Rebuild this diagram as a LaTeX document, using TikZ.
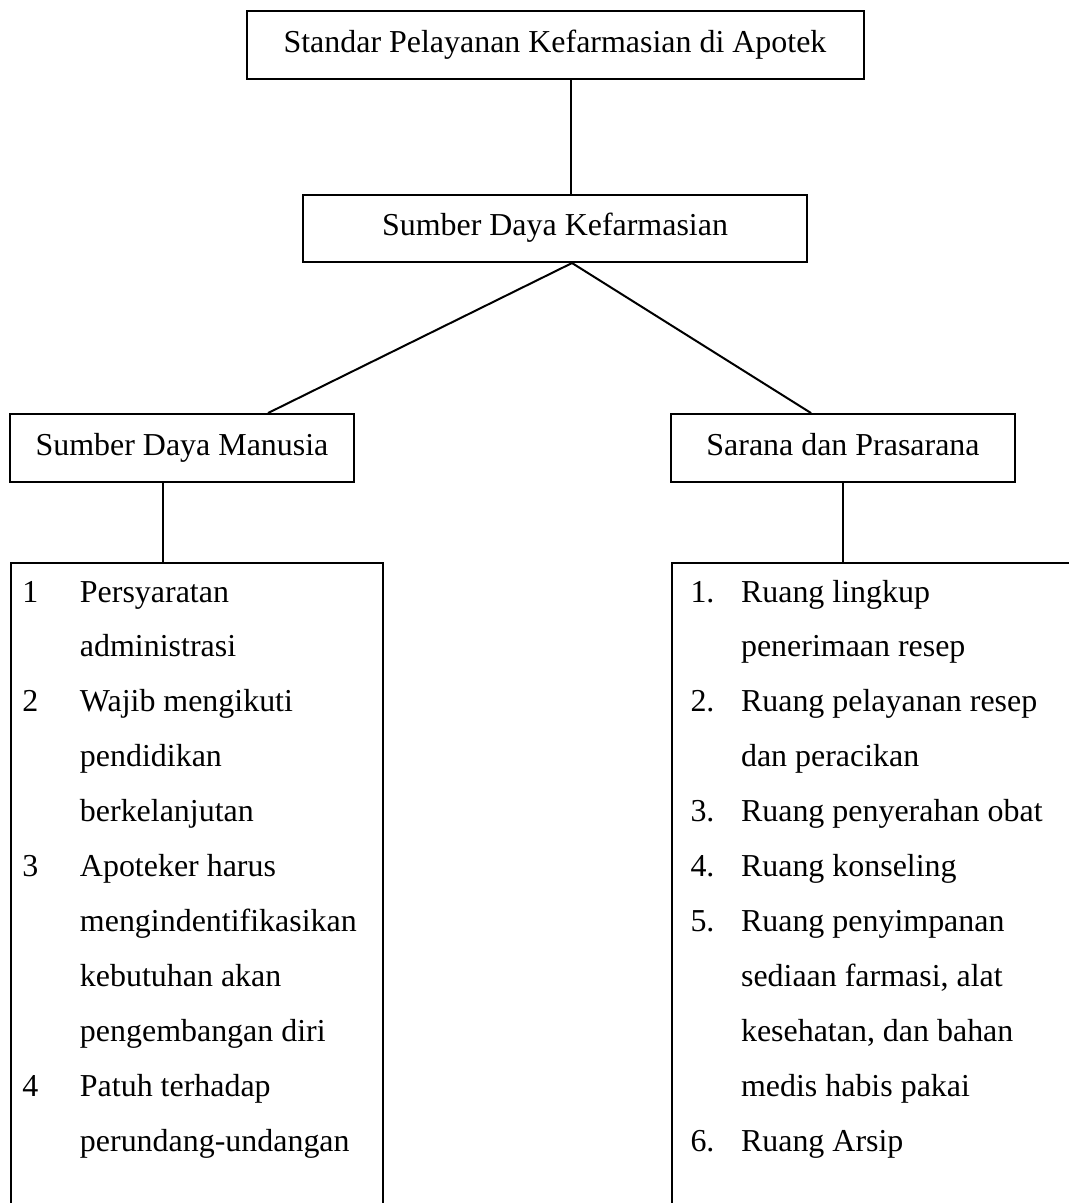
\documentclass[tikz,border=0pt]{standalone}
\usepackage{fontspec}
\setmainfont{Liberation Serif}
\usepackage{tikz}

\tikzset{
  box/.style={draw, inner sep=0pt, minimum height=25.5pt, text height=8.6pt, text depth=3pt},
  listbox/.style={draw, inner sep=0pt, anchor=north west, minimum height=263pt},
  listtext/.style={anchor=base west, inner sep=0pt},
}

\begin{document}
\begin{tikzpicture}[x=0.3757pt, y=-0.3757pt, line width=0.75pt, font=\fontsize{12pt}{20.66pt}\selectfont]
\useasboundingbox (0,0) rectangle (1069,1203);
\clip (0,0) rectangle (1069,1203);
% boxes
\node[box, minimum width=231.8pt] (std) at (555,45) {Standar Pelayanan Kefarmasian di Apotek};
\node[box, minimum width=189.4pt, minimum height=25.2pt] (sdk) at (555,228.5) {Sumber Daya Kefarmasian};
\node[box, minimum width=129.2pt] (sdm) at (182,448) {Sumber Daya Manusia};
\node[box, minimum width=129.2pt] (sarana) at (843,448) {Sarana dan Prasarana};
\node[listbox, minimum width=139.8pt] (sdmlist) at (10,562) {};
\node[listbox, minimum width=169pt] (saranalist) at (671,562) {};
% lists
\node[listtext] (sdmitems) at (21.5,602) {\begin{tabular}[t]{@{}p{21.6pt}@{}l@{}}
1 & Persyaratan\\
  & administrasi\\
2 & Wajib mengikuti\\
  & pendidikan\\
  & berkelanjutan\\
3 & Apoteker harus\\
  & mengindentifikasikan\\
  & kebutuhan akan\\
  & pengembangan diri\\
4 & Patuh terhadap\\
  & perundang-undangan
\end{tabular}};
\node[listtext] (saranaitems) at (689.5,602) {\begin{tabular}[t]{@{}p{19pt}@{}l@{}}
1. & Ruang lingkup\\
   & penerimaan resep\\
2. & Ruang pelayanan resep\\
   & dan peracikan\\
3. & Ruang penyerahan obat\\
4. & Ruang konseling\\
5. & Ruang penyimpanan\\
   & sediaan farmasi, alat\\
   & kesehatan, dan bahan\\
   & medis habis pakai\\
6. & Ruang Arsip
\end{tabular}};
% connectors
\draw ([xshift=6pt]std.south) -- ([xshift=6pt]sdk.north);
\coordinate (fork) at ([xshift=6.4pt]sdk.south);
\draw ([xshift=32.3pt]sdm.north) -- (fork) -- ([xshift=-12pt]sarana.north);
\coordinate (sdmdrop) at ([xshift=-7.1pt]sdm.south);
\draw (sdmdrop) -- (sdmdrop |- sdmlist.north);
\draw (sarana.south) -- (sarana.south |- saranalist.north);
\end{tikzpicture}
\end{document}
